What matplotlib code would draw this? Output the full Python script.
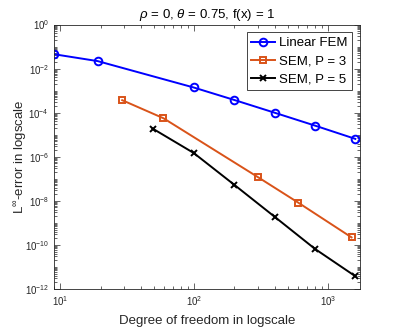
import numpy as np
import matplotlib
matplotlib.use("Agg")
import matplotlib.pyplot as plt

plt.rcParams['font.family'] = ['Liberation Sans', 'DejaVu Sans']
plt.rcParams['mathtext.fontset'] = 'custom'
plt.rcParams['mathtext.rm'] = 'Liberation Sans'
plt.rcParams['mathtext.it'] = 'Liberation Sans:italic'

# data
dof_fem = [9, 19, 99, 199, 399, 799, 1599]
err_fem = [4.5e-2, 2.2e-2, 1.4e-3, 3.8e-4, 1.0e-4, 2.6e-5, 6.5e-6]

dof_p3 = [29, 59, 299, 599, 1499]
err_p3 = [3.7e-4, 5.6e-5, 1.2e-7, 8.3e-9, 2.2e-10]

dof_p5 = [49, 99, 199, 399, 799, 1599]
err_p5 = [1.9e-5, 1.5e-6, 5.4e-8, 1.9e-9, 6.6e-11, 3.8e-12]

ytick_pows = [0, -2, -4, -6, -8, -10, -12]
xtick_pows = [1, 2, 3]

dark = (0.15, 0.15, 0.15)
orange = (0.85, 0.325, 0.098)

fig = plt.figure(figsize=(3.99, 3.32), dpi=100)
ax = fig.add_axes([0.135, 0.1295, 0.767, 0.7965])

ax.loglog(dof_fem, err_fem, '-o', color='blue', lw=1.4, ms=5.5, mfc='none', mew=1.4, label='Linear FEM')
ax.loglog(dof_p3, err_p3, '-s', color=orange, lw=1.4, ms=5, mfc='none', mew=1.4, label='SEM, P = 3')
ax.loglog(dof_p5, err_p5, '-x', color='black', lw=1.4, ms=5, mew=1.4, label='SEM, P = 5')

ax.set_xlim(8.95, 1730)
ax.set_ylim(1e-12, 1)

ax.set_yticks([10.0**p for p in ytick_pows], [r'$10^{%d}$' % p for p in ytick_pows])
ax.set_xticks([10.0**p for p in xtick_pows], [r'$10^{%d}$' % p for p in xtick_pows])
ax.yaxis.set_minor_locator(matplotlib.ticker.LogLocator(base=10, subs=np.arange(1, 10), numticks=100))
ax.xaxis.set_minor_locator(matplotlib.ticker.LogLocator(base=10, subs=np.arange(1, 10), numticks=100))
ax.yaxis.set_minor_formatter(matplotlib.ticker.NullFormatter())
ax.xaxis.set_minor_formatter(matplotlib.ticker.NullFormatter())

ax.tick_params(which='both', direction='in', top=True, right=True, colors=dark, labelsize=7, width=0.5)
ax.tick_params(which='major', length=4)
ax.tick_params(which='minor', length=2)
for s in ax.spines.values():
    s.set_color(dark)
    s.set_linewidth(0.6)

ax.set_title(r'$\rho$ = 0, $\theta$ = 0.75, f(x) = 1', fontsize=9.5, color='black', pad=5)
ax.set_xlabel('Degree of freedom in logscale', fontsize=9.5, color=dark, labelpad=5)
ax.set_ylabel(r'L$^{\infty}$-error in logscale', fontsize=9.5, color=dark)
ax.yaxis.set_label_coords(-0.077, 0.5)

leg = ax.legend(loc='upper right', fontsize=9.5, fancybox=False, framealpha=1,
                edgecolor=dark, handlelength=1.8, handletextpad=0.3,
                borderpad=0.35, labelspacing=0.45, borderaxespad=0.6)
leg.get_frame().set_linewidth(0.6)

fig.savefig('out.png', dpi=100)
